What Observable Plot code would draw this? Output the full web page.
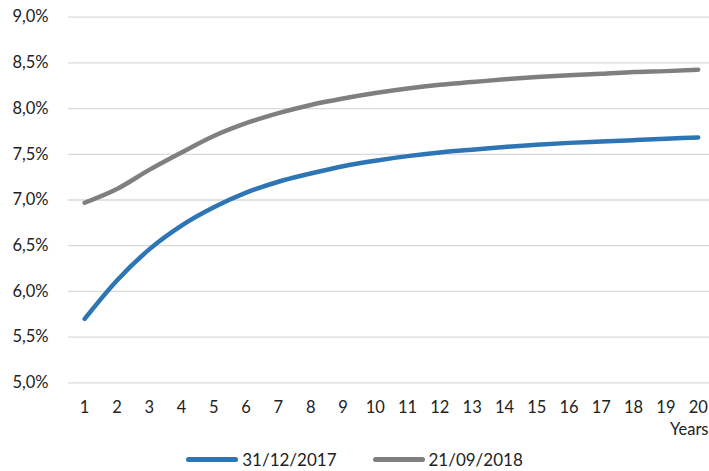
<!DOCTYPE html>
<html>
<head>
<meta charset="utf-8">
<script src="https://cdn.jsdelivr.net/npm/d3@7"></script>
<script src="https://cdn.jsdelivr.net/npm/@observablehq/plot@0.6"></script>
<style>
  body { margin: 0; background: #fff; font-family: Lato, "Open Sans", sans-serif; }
  #chart { width: 709px; }
  .legend { display: flex; justify-content: center; align-items: center; gap: 36px; font-size: 17px; color: #222; height: 24px; margin-top: 0px; }
  .item { display: flex; align-items: center; }
  .sw { width: 52px; height: 5px; border-radius: 3px; margin-right: 4px; }
</style>
</head>
<body>
<div id="chart"></div>
<script>
const years = [1,2,3,4,5,6,7,8,9,10,11,12,13,14,15,16,17,18,19,20];
const rates2017 = [5.70,6.12,6.46,6.72,6.92,7.08,7.20,7.29,7.37,7.43,7.48,7.52,7.55,7.58,7.605,7.625,7.64,7.655,7.67,7.685];
const rates2018 = [6.97,7.12,7.33,7.52,7.70,7.84,7.95,8.04,8.11,8.17,8.22,8.26,8.29,8.32,8.345,8.365,8.38,8.40,8.41,8.425];
const yTicks = [5.0,5.5,6.0,6.5,7.0,7.5,8.0,8.5,9.0];
const seriesNames = ["31/12/2017", "21/09/2018"];
const seriesColors = ["#2E75B6", "#7F7F7F"];

const data = [
  ...years.map((y, i) => ({year: y, value: rates2017[i], series: seriesNames[0]})),
  ...years.map((y, i) => ({year: y, value: rates2018[i], series: seriesNames[1]}))
];

const fmt = d => d.toFixed(1).replace(".", ",") + "%";

const plot = Plot.plot({
  width: 709,
  height: 447,
  marginLeft: 68,
  marginRight: 0,
  marginTop: 16.7,
  marginBottom: 64.7,
  style: {fontFamily: "Lato, 'Open Sans', sans-serif", fontSize: "16px", color: "#222"},
  x: {domain: [0.5, 20.35]},
  y: {domain: [5, 9]},
  color: {domain: seriesNames, range: seriesColors},
  marks: [
    Plot.ruleY(yTicks, {stroke: "#d9d9d9", strokeWidth: 1.3}),
    Plot.axisY({ticks: yTicks, tickFormat: fmt, tickSize: 0, tickPadding: 20, label: null, fontSize: 16.5}),
    Plot.axisX({ticks: years, tickFormat: d => String(d), tickSize: 0, tickPadding: 18, label: null, fontSize: 16.5}),
    Plot.line(data, {x: "year", y: "value", z: "series", stroke: "series", strokeWidth: 4.5, curve: "monotone-x", strokeLinecap: "round"}),
    Plot.text(["Years"], {frameAnchor: "bottom-right", dy: 52, dx: -1, textAnchor: "end", fontSize: 16.5, fill: "#222"})
  ]
});
document.getElementById("chart").appendChild(plot);

const legend = document.createElement("div");
legend.className = "legend";
seriesNames.forEach((n, i) => {
  const it = document.createElement("div");
  it.className = "item";
  const sw = document.createElement("span");
  sw.className = "sw";
  sw.style.background = seriesColors[i];
  const t = document.createElement("span");
  t.textContent = n;
  it.appendChild(sw); it.appendChild(t);
  legend.appendChild(it);
});
document.getElementById("chart").appendChild(legend);
</script>
</body>
</html>
